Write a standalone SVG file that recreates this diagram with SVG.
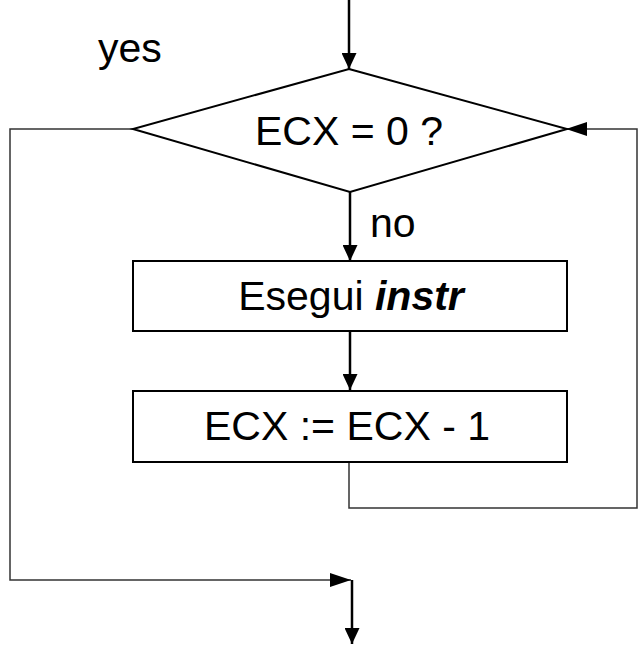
<svg xmlns="http://www.w3.org/2000/svg" width="639" height="646" viewBox="0 0 639 646">
<style>
.shape{fill:#fff;stroke:#000;stroke-width:2}
.ln{fill:none;stroke:#000;stroke-width:2.5}
.thin{fill:none;stroke:#333;stroke-width:1.5}
text{font-family:"Liberation Sans",Arial,sans-serif;font-size:41px;fill:#000}
</style>
<defs>
<marker id="ah" markerUnits="userSpaceOnUse" markerWidth="16" markerHeight="15" refX="16" refY="7.5" orient="auto">
<path d="M0,0 L16,7.5 L0,15 Z" fill="#000"/>
</marker>
<marker id="ahl" markerUnits="userSpaceOnUse" markerWidth="21" markerHeight="14" refX="21" refY="7" orient="auto">
<path d="M0,0 L21,7 L0,14 Z" fill="#000"/>
</marker>
</defs>
<g id="connectors">
<line class="ln" x1="349" y1="0" x2="349" y2="69" marker-end="url(#ah)"/>
<line class="ln" x1="350" y1="192" x2="350" y2="261" marker-end="url(#ah)"/>
<line class="ln" x1="350" y1="331" x2="350" y2="390" marker-end="url(#ah)"/>
<polyline class="thin" points="349,463 349,508 637,508 637,129 566,129" marker-end="url(#ahl)"/>
<polyline class="thin" points="133,129 10,129 10,580 351,580" marker-end="url(#ahl)"/>
<line class="ln" x1="352" y1="580" x2="352" y2="644" marker-end="url(#ah)"/>
<text x="98" y="62">yes</text>
<text x="370" y="237">no</text>
</g>
<g id="decision">
<polygon class="shape" points="349,69 567,129 350,192 133,129"/>
<text x="349" y="145" text-anchor="middle">ECX = 0 ?</text>
</g>
<g id="execute">
<rect class="shape" x="133" y="261" width="434" height="70"/>
<text x="351" y="310" text-anchor="middle">Esegui <tspan font-weight="bold" font-style="italic">instr</tspan></text>
</g>
<g id="decrement">
<rect class="shape" x="133" y="391" width="434" height="71"/>
<text x="347" y="440" text-anchor="middle">ECX := ECX - 1</text>
</g>
</svg>
